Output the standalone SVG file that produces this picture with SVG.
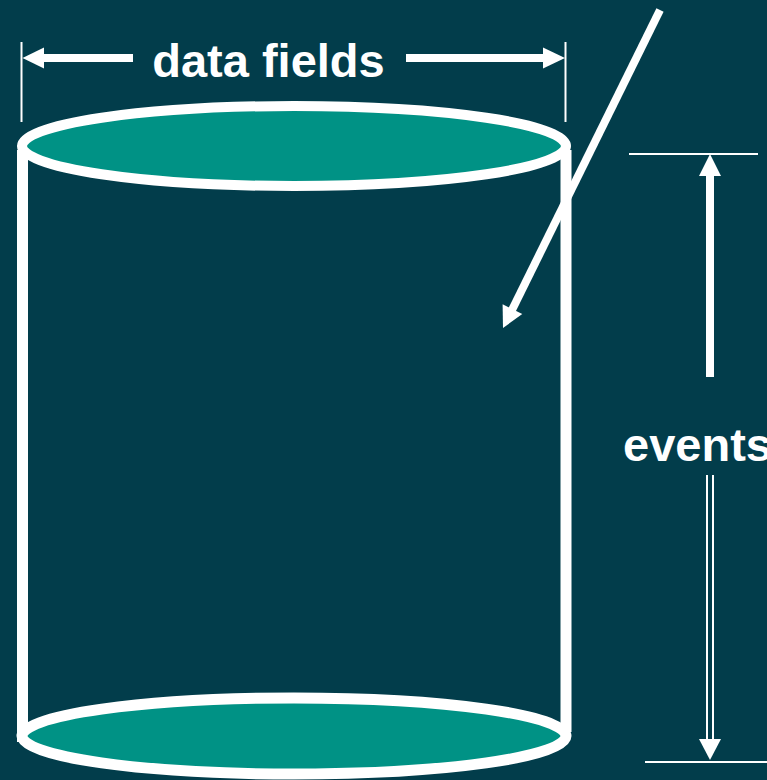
<svg xmlns="http://www.w3.org/2000/svg" width="767" height="780" viewBox="0 0 767 780">
<style>
.bg{fill:#023d4b}
.side{stroke:#fff;stroke-width:11;fill:none}
.disk{fill:#009285;stroke:#fff;stroke-width:10}
.thick{stroke:#fff;stroke-width:8;fill:none}
.thin{stroke:#fff;stroke-width:2;fill:none}
.head{fill:#fff}
.lbl{font-family:"Liberation Sans",Arial,sans-serif;font-weight:bold;font-size:47px;fill:#fff}
</style>
<rect class="bg" x="0" y="0" width="767" height="780"/>
<g id="cylinder">
  <line class="side" x1="22.5" y1="150" x2="22.5" y2="742"/>
  <line class="side" x1="566" y1="150" x2="566" y2="732"/>
  <ellipse class="disk" cx="294" cy="736" rx="272" ry="38" style="stroke-width:11"/>
  <ellipse class="disk" cx="294" cy="146" rx="272" ry="40"/>
</g>
<g id="data-fields">
  <text class="lbl" x="268.5" y="77" text-anchor="middle">data fields</text>
</g>
<g id="events">
  <text class="lbl" x="623" y="461">events</text>
</g>
<g id="connectors">
  <!-- data fields dimension -->
  <line class="thin" x1="21.5" y1="42" x2="21.5" y2="122"/>
  <line class="thin" x1="565.5" y1="42" x2="565.5" y2="122"/>
  <line class="thick" x1="42" y1="58" x2="133" y2="58"/>
  <polygon class="head" points="22.5,58 44,47.5 44,68.5"/>
  <line class="thick" x1="406" y1="58" x2="545" y2="58"/>
  <polygon class="head" points="565,58 543,47.5 543,68.5"/>
  <!-- diagonal pointer -->
  <line class="thick" x1="660" y1="10" x2="512" y2="310"/>
  <polygon class="head" points="503,328 502.6,304.3 522.3,314"/>
  <!-- events dimension -->
  <line class="thin" x1="629" y1="154" x2="758" y2="154"/>
  <polygon class="head" points="710,154 699,176 721,176"/>
  <line class="thick" x1="710" y1="174" x2="710" y2="377"/>
  <line class="thin" x1="707" y1="475" x2="707" y2="741"/>
  <line class="thin" x1="713" y1="475" x2="713" y2="741"/>
  <polygon class="head" points="710,760 699,739 721,739"/>
  <line class="thin" x1="645" y1="762" x2="767" y2="762"/>
</g>
</svg>
